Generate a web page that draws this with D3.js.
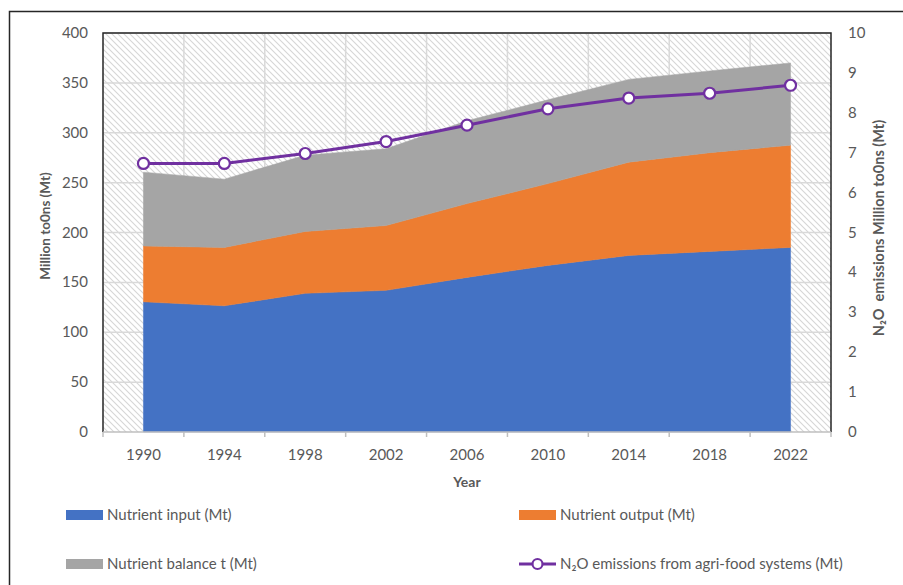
<!DOCTYPE html>
<html lang="en">
<head>
<meta charset="UTF-8">
<title>Nutrient flows and N2O</title>
<script src="https://d3js.org/d3.v7.min.js"></script>
<style>
  body { margin: 0; background: #fff; }
  text { font-family: Lato, "Open Sans", sans-serif; }
</style>
</head>
<body>
<script>
// data
const years = ["1990", "1994", "1998", "2002", "2006", "2010", "2014", "2018", "2022"];
const nutrientInput = [130.5, 126.5, 139, 142, 155, 167, 177, 181, 185];
const nutrientOutput = [56, 58.5, 62, 65, 74, 82, 93.5, 99, 102.5];
const nutrientBalance = [74, 68.5, 76.5, 77, 83, 84, 83, 82, 82.5];
const n2o = [6.73, 6.73, 6.98, 7.28, 7.69, 8.10, 8.37, 8.49, 8.69];
const leftTicks = [0, 50, 100, 150, 200, 250, 300, 350, 400];
const rightTicks = [0, 1, 2, 3, 4, 5, 6, 7, 8, 9, 10];

const W = 903, H = 585;
const plot = { left: 103, top: 33, right: 831, bottom: 432 };

const svg = d3.select('body').append('svg').attr('width', W).attr('height', H);

// hatch pattern for plot background
const defs = svg.append('defs');
const pat = defs.append('pattern')
    .attr('id', 'hatch').attr('patternUnits', 'userSpaceOnUse')
    .attr('width', 6).attr('height', 6);
pat.append('rect').attr('width', 6).attr('height', 6).attr('fill', '#fff');
pat.append('path')
    .attr('d', 'M0,0 L6,6 M-3,3 L3,9 M3,-3 L9,3')
    .attr('stroke', '#d6d6d6').attr('stroke-width', 1.1);

// outer chart border
svg.append('rect').attr('x', 9.5).attr('y', 11.5).attr('width', W).attr('height', H)
    .attr('fill', 'none').attr('stroke', '#262626').attr('stroke-width', 1.5);

const x = d3.scaleBand().domain(years).range([plot.left, plot.right]).padding(0);
const y = d3.scaleLinear().domain([0, 400]).range([plot.bottom, plot.top]);
const y2 = d3.scaleLinear().domain([0, 10]).range([plot.bottom, plot.top]);
const cx = d => x(d) + x.bandwidth() / 2;

svg.append('rect')
    .attr('x', plot.left).attr('y', plot.top)
    .attr('width', plot.right - plot.left).attr('height', plot.bottom - plot.top)
    .attr('fill', 'url(#hatch)');

// gridlines
svg.append('g').selectAll('line').data(leftTicks.slice(1)).enter().append('line')
    .attr('x1', plot.left).attr('x2', plot.right)
    .attr('y1', d => y(d)).attr('y2', d => y(d))
    .attr('stroke', '#d9d9d9').attr('stroke-width', 1.5);
svg.append('g').selectAll('line').data(years.slice(1)).enter().append('line')
    .attr('x1', d => x(d)).attr('x2', d => x(d))
    .attr('y1', plot.top).attr('y2', plot.bottom)
    .attr('stroke', '#d9d9d9').attr('stroke-width', 1.5);

// stacked areas
const rows = years.map((yr, i) => ({ year: yr, input: nutrientInput[i], output: nutrientOutput[i], balance: nutrientBalance[i] }));
const stack = d3.stack().keys(['input', 'output', 'balance'])(rows);
const colors = { input: '#4472C4', output: '#ED7D31', balance: '#A5A5A5' };
const area = d3.area()
    .x(d => cx(d.data.year))
    .y0(d => y(d[0]))
    .y1(d => y(d[1]));
svg.append('g').selectAll('path').data(stack).enter().append('path')
    .attr('d', area)
    .attr('fill', d => colors[d.key])
    .attr('stroke', d => colors[d.key]).attr('stroke-width', 0.5);

// plot border (top, left, right)
svg.append('path')
    .attr('d', `M${plot.left},${plot.bottom} V${plot.top} H${plot.right} V${plot.bottom}`)
    .attr('fill', 'none').attr('stroke', '#262626').attr('stroke-width', 1.5);

// x axis
const xAxis = svg.append('g');
xAxis.append('line').attr('x1', plot.left).attr('x2', plot.right)
    .attr('y1', plot.bottom).attr('y2', plot.bottom)
    .attr('stroke', '#bfbfbf').attr('stroke-width', 1.5);
const tickPos = years.map(d => x(d)).concat([plot.right]);
xAxis.selectAll('.tk').data(tickPos).enter().append('line')
    .attr('x1', d => d).attr('x2', d => d)
    .attr('y1', plot.bottom).attr('y2', plot.bottom + 5)
    .attr('stroke', '#bfbfbf').attr('stroke-width', 1.5);
xAxis.selectAll('text').data(years).enter().append('text')
    .attr('x', d => cx(d)).attr('y', 460)
    .attr('text-anchor', 'middle').attr('font-size', 15).attr('fill', '#595959')
    .text(d => d);

// left axis labels
svg.append('g').selectAll('text').data(leftTicks).enter().append('text')
    .attr('x', 88).attr('y', d => y(d) + 5)
    .attr('text-anchor', 'end').attr('font-size', 15).attr('fill', '#595959')
    .text(d => d);

// right axis labels
svg.append('g').selectAll('text').data(rightTicks).enter().append('text')
    .attr('x', 848).attr('y', d => y2(d) + 5)
    .attr('text-anchor', 'start').attr('font-size', 15).attr('fill', '#595959')
    .text(d => d);

// axis titles
svg.append('text').attr('transform', 'translate(50,226) rotate(-90)')
    .attr('text-anchor', 'middle').attr('font-size', 13.5).attr('font-weight', 'bold').attr('fill', '#595959')
    .text('Million to0ns (Mt)');
svg.append('text').attr('x', 467).attr('y', 487)
    .attr('text-anchor', 'middle').attr('font-size', 14).attr('font-weight', 'bold').attr('fill', '#595959')
    .text('Year');
svg.append('text').attr('transform', 'translate(884,228) rotate(-90)')
    .attr('text-anchor', 'middle').attr('font-size', 14.5).attr('font-weight', 'bold').attr('fill', '#595959')
    .attr('xml:space', 'preserve').style('white-space', 'pre')
    .text('N\u2082O  emissions Million to0ns (Mt)');

// N2O line
const line = d3.line().x((d, i) => cx(years[i])).y(d => y2(d));
svg.append('path').datum(n2o).attr('d', line)
    .attr('fill', 'none').attr('stroke', '#7030A0').attr('stroke-width', 3);
svg.append('g').selectAll('circle').data(n2o).enter().append('circle')
    .attr('cx', (d, i) => cx(years[i])).attr('cy', d => y2(d)).attr('r', 5.5)
    .attr('fill', '#fff').attr('stroke', '#7030A0').attr('stroke-width', 2.2);

// legend
const legend = [
    { label: 'Nutrient input (Mt)', color: colors.input, x: 66, y: 515, type: 'box' },
    { label: 'Nutrient output (Mt)', color: colors.output, x: 519, y: 515, type: 'box' },
    { label: 'Nutrient balance t (Mt)', color: colors.balance, x: 66, y: 564, type: 'box' },
    { label: 'N\u2082O emissions from agri-food systems (Mt)', color: '#7030A0', x: 519, y: 564, type: 'line' }
];
const lg = svg.append('g').selectAll('g').data(legend).enter().append('g')
    .attr('transform', d => `translate(${d.x},${d.y})`);
lg.filter(d => d.type === 'box').append('rect')
    .attr('x', 0).attr('y', -5).attr('width', 37).attr('height', 10)
    .attr('fill', d => d.color);
lg.filter(d => d.type === 'line').append('line')
    .attr('x1', 0).attr('x2', 37).attr('y1', 0).attr('y2', 0)
    .attr('stroke', d => d.color).attr('stroke-width', 3);
lg.filter(d => d.type === 'line').append('circle')
    .attr('cx', 18.5).attr('cy', 0).attr('r', 5)
    .attr('fill', '#fff').attr('stroke', d => d.color).attr('stroke-width', 2.2);
lg.append('text').attr('x', 41).attr('y', 5)
    .attr('font-size', 15).attr('fill', '#595959')
    .text(d => d.label);
</script>
</body>
</html>
